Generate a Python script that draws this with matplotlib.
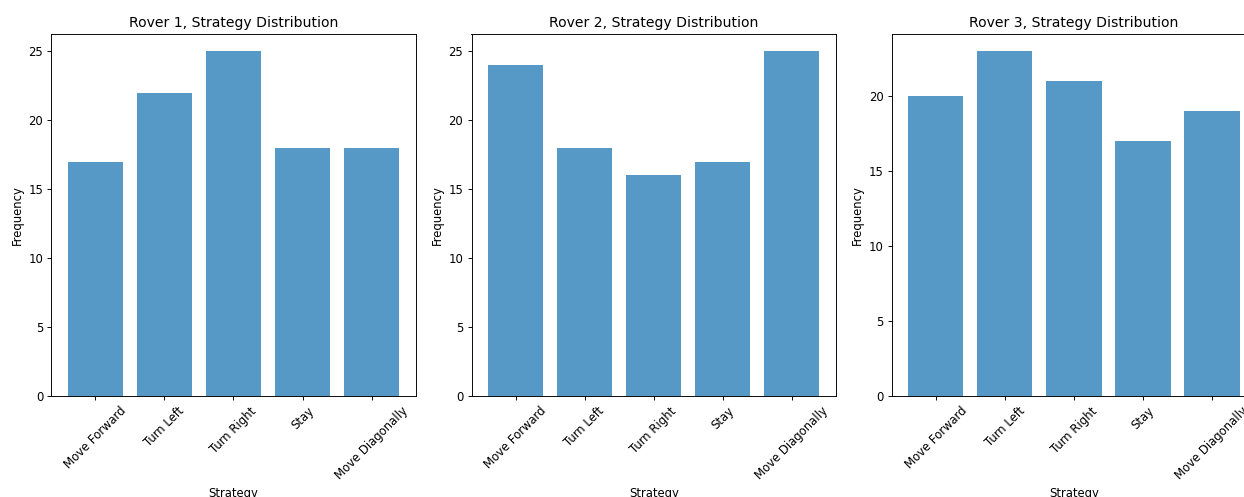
import matplotlib
matplotlib.use("Agg")
import matplotlib.pyplot as plt

strategies = ["Move Forward", "Turn Left", "Turn Right", "Stay", "Move Diagonally"]
rover_names = ["Rover 1", "Rover 2", "Rover 3"]
rover1_counts = [17, 22, 25, 18, 18]
rover2_counts = [24, 18, 16, 17, 25]
rover3_counts = [20, 23, 21, 17, 19]
all_counts = [rover1_counts, rover2_counts, rover3_counts]

DPI = 84
W, H = 1244.0, 497.0
fig = plt.figure(figsize=(W / DPI, H / DPI), dpi=DPI)

# axes boxes in pixels: left edge, spacing, width, bottom, height
ax_left = 51.3
ax_step = 420.2
ax_w = 364.4
ax_bottom = H - 396.3
ax_h = 396.3 - 34.0

for i, (name, counts) in enumerate(zip(rover_names, all_counts)):
    ax = fig.add_axes([(ax_left + i * ax_step) / W, ax_bottom / H, ax_w / W, ax_h / H])
    ax.bar(strategies, counts, color="tab:blue", alpha=0.75)
    ax.set_title(f"{name}, Strategy Distribution")
    ax.set_xlabel("Strategy")
    ax.set_ylabel("Frequency")
    ax.tick_params(axis="x", labelrotation=45)

fig.savefig("out.png", dpi=DPI)
